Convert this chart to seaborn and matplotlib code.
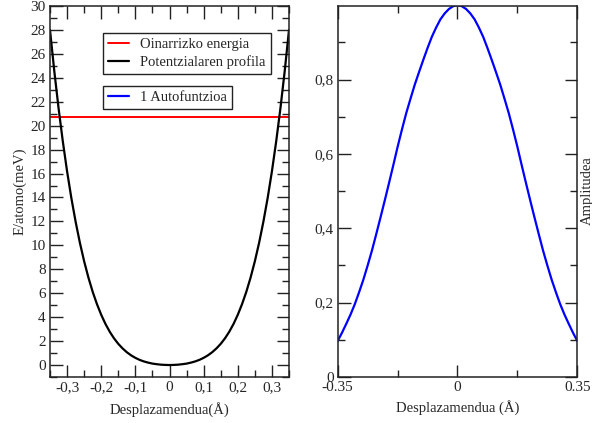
import numpy as np
import pandas as pd
import matplotlib
matplotlib.use("Agg")
import matplotlib.pyplot as plt
from matplotlib.ticker import MultipleLocator, FixedLocator, FixedFormatter
import seaborn as sns

# ---- data ----
displacement = [-0.35, -0.3375, -0.325, -0.3125, -0.3, -0.2875, -0.275, -0.2625,
                -0.25, -0.2375, -0.225, -0.2125, -0.2, -0.1875, -0.175, -0.1625,
                -0.15, -0.1375, -0.125, -0.1125, -0.1, -0.0875, -0.075, -0.0625,
                -0.05, -0.0375, -0.025, -0.0125, 0.0,
                0.0125, 0.025, 0.0375, 0.05, 0.0625, 0.075, 0.0875, 0.1,
                0.1125, 0.125, 0.1375, 0.15, 0.1625, 0.175, 0.1875, 0.2,
                0.2125, 0.225, 0.2375, 0.25, 0.2625, 0.275, 0.2875, 0.3,
                0.3125, 0.325, 0.3375, 0.35]
potential = [28.0, 24.58, 21.48, 18.69, 16.19, 13.96, 11.98, 10.22,
             8.67, 7.31, 6.12, 5.09, 4.20, 3.43, 2.78, 2.23,
             1.77, 1.39, 1.07, 0.81, 0.60, 0.43, 0.30, 0.20,
             0.12, 0.07, 0.03, 0.01, 0.0,
             0.01, 0.03, 0.07, 0.12, 0.20, 0.30, 0.43, 0.60,
             0.81, 1.07, 1.39, 1.77, 2.23, 2.78, 3.43, 4.20,
             5.09, 6.12, 7.31, 8.67, 10.22, 11.98, 13.96, 16.19,
             18.69, 21.48, 24.58, 28.0]
amplitude = [0.097, 0.119, 0.143, 0.168, 0.196, 0.228, 0.262, 0.300,
             0.340, 0.384, 0.429, 0.475, 0.522, 0.570, 0.619, 0.665,
             0.709, 0.748, 0.786, 0.820, 0.853, 0.885, 0.915, 0.940,
             0.962, 0.978, 0.990, 0.9975, 1.0,
             0.9975, 0.990, 0.978, 0.962, 0.940, 0.915, 0.885, 0.853,
             0.820, 0.786, 0.748, 0.709, 0.665, 0.619, 0.570, 0.522,
             0.475, 0.429, 0.384, 0.340, 0.300, 0.262, 0.228, 0.196,
             0.168, 0.143, 0.119, 0.097]
ground_energy = 20.7

left_xticks = [-0.3, -0.2, -0.1, 0.0, 0.1, 0.2, 0.3]
left_xticklabels = ["-0,3", "-0,2", "-0,1", "0", "0,1", "0,2", "0,3"]
left_yticks = list(range(0, 31, 2))
right_xticks = [-0.35, 0.0, 0.35]
right_xticklabels = ["-0.35", "0", "0.35"]
right_yticks = [0.0, 0.2, 0.4, 0.6, 0.8]
right_yticklabels = ["0", "0,2", "0,4", "0,6", "0,8"]

df = pd.DataFrame({"x": displacement, "V": potential, "psi": amplitude})

sns.set_style("ticks")
plt.rcParams["font.family"] = ["Liberation Serif", "DejaVu Serif"]
plt.rcParams["axes.edgecolor"] = "#222222"
plt.rcParams["axes.linewidth"] = 1.1

fig = plt.figure(figsize=(5.92, 4.23), dpi=100)
W, H = 592, 423
def rect(x0, x1, ytop, ybot):
    return [x0 / W, 1 - ybot / H, (x1 - x0) / W, (ybot - ytop) / H]

ax1 = fig.add_axes(rect(50, 289, 6, 377))
ax2 = fig.add_axes(rect(337.7, 577.3, 6, 377))

# ---- left panel ----
hE = ax1.axhline(ground_energy, color="red", lw=1.4, label="Oinarrizko energia")
sns.lineplot(data=df, x="x", y="V", ax=ax1, color="black", lw=1.6,
             label="Potentzialaren profila", legend=False)
ax1.set_xlim(-0.35, 0.35)
ax1.set_ylim(-1, 30)
ax1.xaxis.set_major_locator(FixedLocator(left_xticks))
ax1.xaxis.set_major_formatter(FixedFormatter(left_xticklabels))
ax1.xaxis.set_minor_locator(MultipleLocator(0.05))
ax1.yaxis.set_major_locator(FixedLocator(left_yticks))
ax1.yaxis.set_minor_locator(MultipleLocator(1))
ax1.set_xlabel("Desplazamendua(Å)", fontsize=10.5, labelpad=6)
ax1.set_ylabel("E/atomo(meV)", fontsize=10.5, labelpad=3)

# ---- right panel ----
sns.lineplot(data=df, x="x", y="psi", ax=ax2, color="blue", lw=1.6,
             label="1 Autofuntzioa", legend=False)
ax2.set_xlim(-0.35, 0.35)
ax2.set_ylim(0, 0.998)
ax2.xaxis.set_major_locator(FixedLocator(right_xticks))
ax2.xaxis.set_major_formatter(FixedFormatter(right_xticklabels))
ax2.xaxis.set_minor_locator(FixedLocator([-0.175, 0.175]))
ax2.yaxis.set_major_locator(FixedLocator(right_yticks))
ax2.yaxis.set_major_formatter(FixedFormatter(right_yticklabels))
ax2.yaxis.set_minor_locator(MultipleLocator(0.1))
ax2.set_xlabel("Desplazamendua (Å)", fontsize=10.5, labelpad=4)
ax2.set_ylabel("")
fig.text(581 / W, 0.55, "Amplitudea", rotation=90, ha="left", va="center",
         fontsize=10.5)

for ax in (ax1, ax2):
    for s in ax.spines.values():
        s.set_visible(True)
    ax.tick_params(which="both", direction="in", top=True, right=True,
                   labelsize=11, width=1.0, color="#222222", pad=3)
    ax.tick_params(which="major", length=9)
    ax.tick_params(which="minor", length=5)

# ---- legends (both in the left panel) ----
lines1 = ax1.get_lines()
h_pot = [l for l in lines1 if l.get_label() == "Potentzialaren profila"][0]
h_psi = [l for l in ax2.get_lines() if l.get_label() == "1 Autofuntzioa"][0]
leg_kw = dict(fontsize=10.5, frameon=True, fancybox=False, framealpha=1,
              edgecolor="#222222", borderaxespad=0, handlelength=1.4,
              handletextpad=0.8, borderpad=0.35, labelspacing=0.25)
leg1 = ax1.legend([hE, h_pot], ["Oinarrizko energia", "Potentzialaren profila"],
                  loc="upper left", bbox_to_anchor=((103 - 50) / 239, (377 - 33) / 371),
                  **leg_kw)
leg1.get_frame().set_linewidth(1.0)
ax1.add_artist(leg1)
leg2 = ax1.legend([h_psi], ["1 Autofuntzioa"], loc="upper left",
                  bbox_to_anchor=((103 - 50) / 239, (377 - 86) / 371), **leg_kw)
leg2.get_frame().set_linewidth(1.0)

fig.savefig("out.png", dpi=100)
